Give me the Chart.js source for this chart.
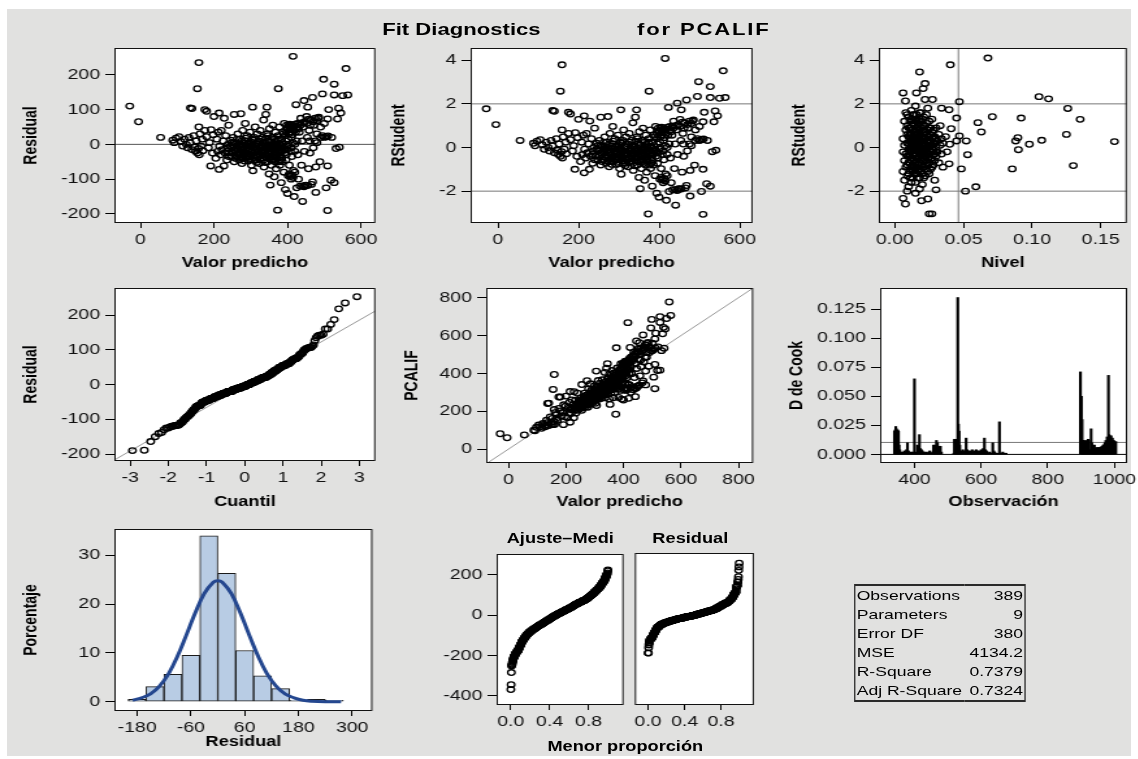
<!DOCTYPE html>
<html lang="es">
<head>
<meta charset="UTF-8">
<title>Fit Diagnostics for PCALIF</title>
<script src="https://cdn.jsdelivr.net/npm/chart.js"></script>
<style>
  body { margin: 0; width: 1138px; height: 759px; overflow: hidden; background: #fff;
         font-family: "Liberation Sans", Arial, sans-serif; color: #000; }
  #fondo { position: absolute; left: 7px; top: 9px; width: 1124px; height: 747px; background: #e1e1e0; }
  #lienzo { position: absolute; left: 0; top: 0; width: 876px; height: 759px;
            transform: scaleX(1.3); transform-origin: 0 0; }
  #lienzo canvas, .texto { position: absolute; }
  .texto { font-weight: bold; white-space: nowrap; line-height: 20px; }
  .titulo { font-size: 17px; top: 20px; }
  .sub { font-size: 14px; transform: translateX(-50%); }
  #tabla { position: absolute; left: 657px; top: 584px; width: 132px; border-collapse: collapse;
           border-style: solid; border-color: #2a2a2a; border-width: 2px 1.5px; font-size: 13.5px; }
  #tabla td { height: 19px; padding: 0 1px; line-height: 17px; white-space: nowrap; }
  #tabla td.v { text-align: right; padding-left: 3px; }
</style>
</head>
<body>
<div id="fondo"></div>
<div id="lienzo">
  <div class="texto titulo" style="left:294px">Fit Diagnostics</div>
  <div class="texto titulo" style="left:490px;letter-spacing:1.4px">for PCALIF</div>
  <div class="texto sub" style="left:431px;top:528px">Ajuste–Medi</div>
  <div class="texto sub" style="left:531px;top:528px">Residual</div>
  <div class="texto sub" style="left:481px;top:736px">Menor proporción</div>
  <table id="tabla"></table>
</div>

<script>
// la imagen original está estirada en horizontal
const S = 1.3;

// ---------- datos ----------
// [valor predicho, residual]
const predResid = [
  [-29,110],[-5,65],[55,20],[159,235],[155,160],[415,253],[559,218],[375,160],[498,187],[527,173],
  [495,145],[527,142],[564,142],[136,105],[140,103],[175,100],[214,90],[255,86],[273,88],[305,107],
  [344,107],[341,86],[159,50],[468,135],[445,126],[423,114],[455,107],[539,104],[536,73],[509,73],
  [541,-8],[532,-12],[509,-62],[477,-65],[191,-62],[214,-72],[227,-62],[306,-76],[373,-189],[509,-190],
  [441,-164],[418,-150],[400,-141],[477,-138],[505,-125],[450,-117],[468,-108],[518,-103],[527,-110],[353,-117],
  [364,-93],
  [88,12],[92,5],[97,18],
  [105,22],[110,8],[115,-5],[120,15],[125,0],[128,-10],[132,20],[135,5],[140,-15],[145,25],
  [148,-8],[150,-20],[152,10],[155,-25],[158,-12],[160,-30],[162,30],[165,-5],[168,15],[170,-18],
  [175,40],[180,22],[185,-10],[188,5],[192,42],[196,-25],[198,28],[180,95],
  [200,80],[205,-40],[208,15],[210,-20],[212,35],[215,-5],[218,-30],[220,40],[222,-15],[225,10],
  [228,75],[230,-25],[232,25],[235,-45],[238,0],[240,55],[242,-25],[245,12],[248,-35],[250,-8],
  [252,20],[255,-50],[258,-20],[260,5],[262,-35],[265,30],[265,-10],[268,-45],[270,15],[272,-25],
  [275,0],[276,-55],[278,40],[280,-15],[282,-30],[284,10],[285,60],[287,-40],[288,-5],[290,25],
  [292,-20],[294,-48],[295,5],[297,-12],[298,35],[300,-30],[302,-60],[303,15],[307,-8],[309,-38],
  [310,20],[312,50],[313,-22],[315,0],[317,-45],[318,30],[320,-15],
  [322,10],[323,-55],[325,-28],[326,40],[328,-5],[330,-40],[331,20],[333,-18],[335,70],[336,-65],
  [338,5],[340,-30],[342,-10],[345,30],[346,-50],[348,-20],[349,10],[350,-85],[351,45],[354,-35],
  [355,0],[356,-60],[357,20],[358,-25],[360,55],[361,-8],[362,-45],[365,15],[366,-30],[367,35],
  [368,-15],[369,-70],[370,5],[363,-2],[352,-12],[347,25],
  [372,-40],[374,25],[376,-20],[378,50],[379,-60],[380,0],[382,-30],[383,-110],[384,15],[386,-50],
  [387,35],[388,-10],[390,-80],[391,60],[392,-25],[394,-130],[395,10],[396,-45],[398,55],[401,-5],
  [402,-90],[403,30],[405,-60],[406,58],[408,-20],[410,-100],[411,20],[412,-35],[414,45],[416,-75],
  [420,0],[425,-125],[427,60],[428,-30],
  [432,35],[434,-120],[436,75],[438,-60],[440,10],[443,50],[446,-20],[448,-118],[452,80],[454,20],
  [457,-70],[459,40],[461,-25],[463,70],[465,-115],
  [472,55],[475,10],[480,30],[483,75],[488,-50],[490,20],[500,60],
  [512,100],[520,20],[545,90],[550,140],
  [395,40],[400,48],[404,55],[407,42],[412,52],[418,40],[421,58],[430,45],[435,55],[440,62],
  [447,65],[452,60],[458,72],[462,55],[470,65],[475,75],[480,68],[485,78],[490,50],
  [405,-85],[408,-92],[412,-88],[415,-95],[420,-80],[430,-100],[440,-120],[445,-122],[455,-118],
  [460,10],[470,-10],[480,5],[495,25],[500,20],[505,22],[510,24],
  [270,-30],[275,-15],[280,-40],[285,-25],[290,-10],[295,-35],[300,-5],[305,-20],[310,-45],[315,-15],
  [320,-35],[325,-10],[330,-25],[335,-45],[340,-5],[345,-15],[350,-40],[355,-20],[360,-35],[365,-5],
  [370,-25],[375,-10],[380,-45],[385,-20],[390,-5],[255,-15],[262,-5],[248,5],[236,-10],[290,-28],
  [330,-2],[372,-12],
  [398,-15],[403,0],[410,-10],[415,5],[420,-20],[425,10],
  [235,-20],[240,-35],[245,-5],[250,-25],[255,5],[258,-40],[260,-12],[263,15],[266,-28],[268,0],
  [271,-8],[273,-38],[276,10],[279,-22],[281,-3],[283,-48],[286,18],[289,-33],[291,0],[293,-15],
  [296,-42],[299,8],[301,-22],[304,-2],[306,-33],[308,12],[311,-10],[314,-30],[316,-52],[319,5],
  [321,-20],[324,-42],[327,15],[329,-12],[332,-32],[334,2],[337,-20],[339,-52],[341,18],[343,-38],
  [344,-12],[347,-2],[349,-28],[353,8],[356,-42],[358,-8],[360,20],[363,-22],[366,-50],[368,2],
  [371,-35],[373,15],[376,-50],[378,-2],[381,-20],[384,-40],[386,5],[389,30],[392,-15],[394,25],
  [397,-30],[399,45],[402,15],[405,35],[409,50],[413,28],[417,52],[422,35],[426,48],[433,60]
];

// [nivel (leverage), RStudent]
const nivelRStudent = [
  [0.0678,4.1],[0.0404,3.79],[0.018,3.46],[0.022,2.93],[0.0206,2.7],[0.006,2.5],[0.0157,2.5],[0.0077,2.13],
  [0.0274,2.2],[0.047,2.1],[0.105,2.33],[0.112,2.23],[0.126,1.79],[0.135,1.29],[0.092,1.35],[0.071,1.41],
  [0.0605,1.14],[0.063,0.71],[0.125,0.6],[0.0896,0.45],[0.088,0.3],[0.098,0.15],[0.107,0.33],[0.16,0.27],
  [0.090,-0.1],[0.13,-0.83],[0.0855,-0.98],[0.0484,-0.98],[0.053,-0.33],[0.052,0.3],[0.059,-1.8],[0.0514,-2.0],
  [0.0395,-0.75],[0.030,-1.94],[0.027,-3.04],[0.025,-3.04],[0.0077,-2.59],[0.006,-2.33],[0.0194,-2.44],[0.024,-2.36],
  [0.009,-2.0],[0.040,0.15],[0.041,0.86],[0.0395,1.73],[0.034,1.8],[0.045,1.35],[0.047,0.53],[0.045,0.3],
  [0.006,-0.2],[0.006,0.4],[0.006,-1.1],[0.007,0.1],[0.007,-0.6],[0.007,1.2],[0.007,-1.5],
  [0.008,-0.3],[0.008,0.8],[0.008,-0.9],[0.008,1.6],[0.009,0.2],[0.009,-0.4],[0.009,-1.3],[0.009,1.0],
  [0.010,-0.1],[0.010,0.5],[0.010,-0.7],[0.010,1.4],[0.010,-1.8],[0.011,0.3],[0.011,-0.2],[0.011,0.9],[0.011,-1.0],
  [0.012,-0.5],[0.012,0.1],[0.012,1.7],[0.012,-1.6],[0.012,0.6],[0.013,0.0],[0.013,-0.3],[0.013,1.1],[0.013,-0.8],
  [0.014,0.4],[0.014,-0.6],[0.014,-1.2],[0.014,1.5],[0.014,0.2],[0.015,-0.1],[0.015,0.7],[0.015,-0.4],[0.015,-2.1],[0.015,1.9],
  [0.016,0.3],[0.016,-0.9],[0.016,0.1],[0.016,1.2],[0.017,-0.2],[0.017,0.5],[0.017,-1.4],[0.017,0.9],[0.017,-0.5],
  [0.018,0.0],[0.018,1.3],[0.018,-0.7],[0.018,0.4],[0.018,-1.9],[0.019,-0.3],[0.019,0.6],[0.019,1.6],[0.019,-1.1],
  [0.020,0.2],[0.020,-0.5],[0.020,0.8],[0.020,-1.7],[0.020,1.0],[0.021,-0.1],[0.021,0.4],[0.021,-0.9],[0.021,1.4],
  [0.022,0.1],[0.022,-0.4],[0.022,0.7],[0.022,-1.3],[0.022,2.2],[0.023,-0.2],[0.023,0.3],[0.023,1.1],[0.023,-0.6],
  [0.024,0.0],[0.024,-0.8],[0.024,0.5],[0.024,1.8],[0.025,-0.3],[0.025,0.2],[0.025,-1.2],[0.025,0.9],
  [0.026,0.1],[0.026,-0.5],[0.026,0.6],[0.027,-0.1],[0.027,0.4],[0.027,-0.9],[0.027,1.3],[0.028,0.2],[0.028,-0.3],[0.028,0.8],
  [0.029,-0.6],[0.029,0.5],[0.029,-1.5],[0.030,0.0],[0.030,0.9],[0.030,-0.4],[0.031,0.3],[0.031,-0.2],
  [0.032,-0.7],[0.032,0.6],[0.033,0.1],[0.033,1.0],[0.034,-0.3],[0.034,0.4],[0.035,0.2],[0.035,-0.9],[0.037,0.5],[0.038,-0.2],
  [0.011,-0.4],[0.013,0.3],[0.015,0.1],[0.016,-0.3],[0.017,0.2],[0.019,-0.1],[0.020,-0.2],[0.021,0.1],[0.022,-0.1],
  [0.023,0.0],[0.018,-0.3],[0.016,0.6],[0.014,-0.1],[0.020,0.5],[0.024,-0.3],[0.012,-0.2],[0.019,0.3],[0.021,-0.4],
  [0.009,0.6],[0.009,-0.8],[0.009,1.5],[0.010,0.2],[0.010,-0.4],[0.010,0.9],[0.010,-1.2],
  [0.011,0.6],[0.011,-0.7],[0.011,1.2],[0.011,-1.4],[0.011,0.0],[0.012,0.3],[0.012,-0.9],[0.012,0.9],[0.012,-0.1],[0.012,1.3],
  [0.013,0.5],[0.013,-0.5],[0.013,0.8],[0.013,-1.1],[0.013,1.5],[0.013,-1.4],[0.014,0.0],[0.014,0.7],[0.014,-0.9],[0.014,1.1],[0.014,-0.3],
  [0.015,0.3],[0.015,-0.7],[0.015,1.2],[0.015,-1.0],[0.015,0.5],[0.015,-1.6],[0.016,-0.5],[0.016,0.8],[0.016,-1.2],[0.016,1.5],[0.016,0.4],[0.016,-0.1],
  [0.017,0.0],[0.017,0.7],[0.017,-0.8],[0.017,1.1],[0.017,-1.1],[0.017,0.3],[0.018,0.2],[0.018,-0.4],[0.018,0.8],[0.018,-1.0],[0.018,1.6],[0.018,-1.4],
  [0.019,0.0],[0.019,-0.6],[0.019,0.9],[0.019,-0.8],[0.019,1.2],[0.020,-0.1],[0.020,0.4],[0.020,-0.9],[0.020,1.3],[0.020,-1.2],
  [0.021,0.2],[0.021,-0.6],[0.021,0.7],[0.021,-1.4],[0.021,1.0],[0.022,-0.2],[0.022,0.4],[0.022,-0.8],[0.022,1.0],
  [0.023,0.1],[0.023,-0.4],[0.023,0.6],[0.023,-1.0],[0.023,1.5],[0.024,0.3],[0.024,-0.5],[0.024,0.8],[0.024,-1.1],
  [0.025,0.0],[0.025,0.5],[0.025,-0.7],[0.025,1.2],[0.026,-0.2],[0.026,0.3],[0.026,-1.0],[0.026,0.9],
  [0.027,0.1],[0.027,-0.5],[0.027,0.7],[0.028,-0.1],[0.028,0.5],[0.028,-0.8],[0.029,0.2],[0.029,-0.3],[0.030,-0.2],[0.030,0.4]
];

// [observación, D de Cook]
const cookD = [
  [340,0.020],[342,0.021],[344,0.024],[346,0.022],[348,0.019],[350,0.021],[352,0.020],[354,0.008],[356,0.004],[358,0.002],
  [361,0.001],[364,0.002],[367,0.001],[370,0.003],[373,0.002],[376,0.004],[379,0.010],[382,0.003],[385,0.001],[388,0.002],
  [391,0.001],[394,0.002],[397,0.001],[400,0.065],[403,0.002],[406,0.001],[409,0.008],[412,0.007],[415,0.017],[418,0.005],
  [421,0.004],[424,0.003],[427,0.002],[430,0.001],[434,0.002],[438,0.001],[442,0.002],[446,0.003],[450,0.001],[454,0.002],
  [457,0.008],[460,0.003],[463,0.008],[466,0.012],[469,0.010],[472,0.007],[475,0.006],[478,0.007],[481,0.002],
  [518,0.001],[520,0.013],[522,0.012],[524,0.011],[526,0.013],[528,0.012],[530,0.135],[532,0.026],[534,0.020],[536,0.008],
  [539,0.003],[542,0.002],[545,0.004],[548,0.002],[551,0.003],[555,0.014],[558,0.004],[561,0.003],[564,0.002],[567,0.003],
  [570,0.002],[573,0.004],[576,0.002],[579,0.003],[582,0.002],[585,0.004],[588,0.003],[591,0.002],[594,0.003],[597,0.002],
  [600,0.004],[603,0.003],[606,0.005],[610,0.014],[613,0.004],[616,0.003],[619,0.002],[622,0.001],[626,0.002],[630,0.001],
  [635,0.010],[638,0.003],[641,0.002],[645,0.001],[650,0.001],[655,0.028],[660,0.001],[665,0.002],[670,0.001],[675,0.001],
  [898,0.071],[901,0.050],[903,0.030],[905,0.012],[907,0.011],[909,0.012],[911,0.010],[913,0.011],[915,0.009],[917,0.012],
  [919,0.003],[921,0.013],[923,0.012],[925,0.002],[927,0.004],[930,0.022],[932,0.010],[934,0.008],[936,0.006],[938,0.004],
  [940,0.008],[942,0.005],[944,0.003],[946,0.004],[948,0.006],[950,0.005],[952,0.004],[954,0.006],[956,0.005],[958,0.006],
  [960,0.006],[962,0.007],[964,0.006],[966,0.008],[968,0.007],[970,0.009],[972,0.010],[974,0.012],[976,0.011],[978,0.015],
  [982,0.068],[984,0.017],[986,0.016],[988,0.015],[990,0.016],[992,0.012],[994,0.014],[996,0.011],[998,0.012],[1000,0.011],
  [1002,0.010],[1004,0.011]
];
const cookCorte = 0.0103;

// histograma de residuales (porcentaje por clase de ancho 40)
const histCentros = [-180, -140, -100, -60, -20, 20, 60, 100, 140, 180, 220, 260];
const histPorcentaje = [0.5, 3.1, 5.6, 9.5, 34.0, 26.3, 10.5, 5.3, 2.7, 0.3, 0.5, 0.3];
// curva normal
const curvaX = [-190, -170, -150, -130, -110, -90, -70, -50, -30, -10, 0, 10, 30, 50, 70, 90, 110, 130, 150, 170, 190, 210, 240, 275];
const curvaY = [0.3, 0.8, 1.6, 3.2, 5.7, 9.3, 13.7, 18.3, 22.2, 24.5, 24.8, 24.5, 22.2, 18.3, 13.7, 9.3, 5.7, 3.2, 1.6, 0.8, 0.3, 0.1, 0.0, 0.0];

// recta de referencia del gráfico Q-Q
const lineaQQ = [[-3.41, -217], [3.42, 212]];

// ticks
const ticksPred = [0, 200, 400, 600];
const ticksResid = [-200, -100, 0, 100, 200];
const ticksRStud = [-2, 0, 2, 4];
const ticksNivel = [0, 0.05, 0.10, 0.15];
const ticksCuantil = [-3, -2, -1, 0, 1, 2, 3];
const ticksPcalif = [0, 200, 400, 600, 800];
const ticksObs = [400, 600, 800, 1000];
const ticksCook = [0, 0.025, 0.05, 0.075, 0.1, 0.125];
const ticksHistX = [-180, -60, 60, 180, 300];
const ticksPct = [0, 10, 20, 30];
const ticksProp = [0, 0.4, 0.8];
const ticksAjuste = [-400, -200, 0, 200];

const tablaEtiquetas = ['Observations', 'Parameters', 'Error DF', 'MSE', 'R-Square', 'Adj R-Square'];
const tablaValores = ['389', '9', '380', '4134.2', '0.7379', '0.7324'];

// ---------- series derivadas de las mismas observaciones ----------
const n = predResid.length;
const mediaPred = predResid.reduce((s, d) => s + d[0], 0) / n;
const rstudent = predResid.map(([p, r]) => ({ x: p, y: r / 62 }));
const pcalif = predResid.map(([p, r]) => ({ x: p, y: p + r }));
const residOrden = predResid.map(d => d[1]).sort((a, b) => a - b);
const ajusteOrden = predResid.map(d => d[0] - mediaPred).sort((a, b) => a - b);

function probit(p) {
  const a = [-39.69683028665376, 220.9460984245205, -275.9285104469687, 138.3577518672690, -30.66479806614716, 2.506628277459239];
  const b = [-54.47609879822406, 161.5858368580409, -155.6989798598866, 66.80131188771972, -13.28068155288572];
  const c = [-0.007784894002430293, -0.3223964580411365, -2.400758277161838, -2.549732539343734, 4.374664141464968, 2.938163982698783];
  const d = [0.007784695709041462, 0.3224671290700398, 2.445134137142996, 3.754408661907416];
  const cola = q => (((((c[0]*q+c[1])*q+c[2])*q+c[3])*q+c[4])*q+c[5]) / ((((d[0]*q+d[1])*q+d[2])*q+d[3])*q+1);
  if (p < 0.02425) return cola(Math.sqrt(-2 * Math.log(p)));
  if (p > 1 - 0.02425) return -cola(Math.sqrt(-2 * Math.log(1 - p)));
  const q = p - 0.5, r = q * q;
  return (((((a[0]*r+a[1])*r+a[2])*r+a[3])*r+a[4])*r+a[5])*q / (((((b[0]*r+b[1])*r+b[2])*r+b[3])*r+b[4])*r+1);
}
const qq = residOrden.map((r, i) => ({ x: probit((i + 1 - 0.375) / (n + 0.25)), y: r }));

// ---------- helpers ----------
Chart.defaults.font.family = '"Liberation Sans", Arial, sans-serif';
Chart.defaults.color = '#000';

const lienzo = document.getElementById('lienzo');
const PT = 12;

const marco = {
  id: 'marco',
  beforeDraw(c) {
    const a = c.chartArea, ctx = c.ctx;
    ctx.save();
    ctx.fillStyle = '#fff';
    ctx.fillRect(a.left, a.top, a.right - a.left, a.bottom - a.top);
    ctx.restore();
  },
  afterDraw(c) {
    const a = c.chartArea, ctx = c.ctx;
    ctx.save();
    ctx.strokeStyle = '#111';
    ctx.lineWidth = 1;
    ctx.strokeRect(a.left + 0.5, a.top + 0.5, a.right - a.left - 1, a.bottom - a.top - 1);
    ctx.restore();
  }
};

function escala(min, max, valores, fmt, titulo, extra) {
  return Object.assign({
    type: 'linear', min: min, max: max, offset: false,
    afterBuildTicks: s => { s.ticks = valores.map(v => ({ value: v })); },
    grid: { display: true, offset: false, drawOnChartArea: false, drawTicks: true, tickLength: 7, color: '#000', lineWidth: 1 },
    border: { display: false },
    ticks: { color: '#111', font: { size: 15 }, padding: 4, autoSkip: false, maxRotation: 0, callback: v => fmt(v) },
    title: { display: !!titulo, text: titulo, color: '#000', font: { size: 14, weight: 'bold' }, padding: 0 }
  }, extra || {});
}

const entero = v => String(v);
const dec = k => v => v.toFixed(k);

function puntos(data) {
  return { data: data, pointRadius: 2.8, pointBorderWidth: 1.3, pointBorderColor: '#000',
           pointBackgroundColor: 'rgba(0,0,0,0)', showLine: false };
}
function linea(data, color) {
  return { type: 'line', data: data, borderColor: color, borderWidth: 1, pointRadius: 0, showLine: true, fill: false };
}

function panel(caja, anchoY, altoX, tipo, datasets, ex, ey) {
  const cv = document.createElement('canvas');
  const w = (caja[2] - caja[0]) / S, h = caja[3] - caja[1];
  const ancho = Math.ceil(anchoY + w + 24), alto = Math.round(PT + h + altoX);
  cv.width = ancho; cv.height = alto;
  cv.style.width = ancho + 'px'; cv.style.height = alto + 'px';
  cv.style.left = (caja[0] / S - anchoY) + 'px';
  cv.style.top = (caja[1] - PT) + 'px';
  lienzo.appendChild(cv);
  ex.grid = Object.assign({}, ex.grid, { tickLength: 5 });
  ex.ticks = Object.assign({}, ex.ticks, { padding: 3 });
  ex.afterFit = s => { s.height = altoX; };
  if (ey.display !== false) ey.afterFit = s => { s.width = anchoY; };
  new Chart(cv, {
    type: tipo,
    data: { datasets: datasets },
    options: {
      responsive: false, animation: false, devicePixelRatio: 1,
      layout: { padding: { left: 0, top: PT, right: ancho - anchoY - w, bottom: 0 } },
      plugins: { legend: { display: false }, tooltip: { enabled: false } },
      scales: { x: ex, y: ey }
    },
    plugins: [marco]
  });
}

// ---------- fila 1 ----------
panel([114, 47, 375, 223], 72, 49, 'scatter', [
    puntos(predResid.map(([p, r]) => ({ x: p, y: r }))),
    linea([{ x: -70.7, y: 0 }, { x: 639, y: 0 }], '#555')
  ],
  escala(-70.7, 639, ticksPred, entero, 'Valor predicho'),
  escala(-226, 277, ticksResid, entero, 'Residual'));

panel([471, 47, 753, 223], 63, 49, 'scatter', [
    puntos(rstudent),
    linea([{ x: -67.8, y: 2 }, { x: 632, y: 2 }], '#777'),
    linea([{ x: -67.8, y: -2 }, { x: 632, y: -2 }], '#777')
  ],
  escala(-67.8, 632, ticksPred, entero, 'Valor predicho'),
  escala(-3.46, 4.56, ticksRStud, entero, 'RStudent'));

panel([879, 47, 1127, 223], 69, 49, 'scatter', [
    puntos(nivelRStudent.map(([l, r]) => ({ x: l, y: r }))),
    linea([{ x: -0.0117, y: 2 }, { x: 0.169, y: 2 }], '#777'),
    linea([{ x: -0.0117, y: -2 }, { x: 0.169, y: -2 }], '#777'),
    linea([{ x: 0.0463, y: -3.46 }, { x: 0.0463, y: 4.56 }], '#777')
  ],
  escala(-0.0117, 0.169, ticksNivel, dec(2), 'Nivel'),
  escala(-3.46, 4.56, ticksRStud, entero, 'RStudent'));

// ---------- fila 2 ----------
panel([115, 287, 376, 461], 72, 50, 'scatter', [
    puntos(qq),
    linea(lineaQQ.map(([x, y]) => ({ x: x, y: y })), '#999')
  ],
  escala(-3.41, 3.42, ticksCuantil, entero, 'Cuantil'),
  escala(-220, 278, ticksResid, entero, 'Residual'));

panel([486, 287, 753, 463], 65, 48, 'scatter', [
    puntos(pcalif),
    linea([{ x: -77.6, y: -77.6 }, { x: 851, y: 851 }], '#999')
  ],
  escala(-77.6, 851, ticksPcalif, entero, 'Valor predicho'),
  escala(-73.5, 851, ticksPcalif, entero, 'PCALIF'));

panel([880, 287, 1127, 463], 72, 48, 'bar', [
    { type: 'bar', data: cookD.map(([o, d]) => ({ x: o, y: d })), backgroundColor: '#000', barThickness: 1.5 },
    linea([{ x: 297, y: cookCorte }, { x: 1038, y: cookCorte }], '#777'),
    linea([{ x: 297, y: 0 }, { x: 1038, y: 0 }], '#000')
  ],
  escala(297, 1038, ticksObs, entero, 'Observación'),
  escala(-0.0074, 0.1432, ticksCook, dec(3), 'D de Cook'));

// ---------- fila 3 ----------
panel([115, 528, 373, 711], 72, 40, 'bar', [
    { type: 'line', data: curvaX.map((x, i) => ({ x: x, y: curvaY[i] })), borderColor: '#24478f',
      borderWidth: 3, pointRadius: 0, tension: 0.4, fill: false },
    { type: 'bar', data: histCentros.map((c, i) => ({ x: c, y: histPorcentaje[i] })),
      backgroundColor: '#b8cce4', borderColor: '#1a1a1a', borderWidth: 1, borderSkipped: false,
      barPercentage: 1, categoryPercentage: 1 }
  ],
  escala(-230.7, 345, ticksHistX, entero, 'Residual'),
  escala(-1.9, 35.4, ticksPct, entero, 'Porcentaje'));

const propX = i => (i + 0.5) / n;
panel([497, 553, 624, 705], 50, 30, 'scatter', [
    puntos(ajusteOrden.map((v, i) => ({ x: propX(i), y: v })))
  ],
  escala(-0.145, 1.16, ticksProp, dec(1), ''),
  escala(-446, 303.5, ticksAjuste, entero, ''));

panel([628, 553, 754, 705], 0, 30, 'scatter', [
    puntos(residOrden.map((v, i) => ({ x: propX(i), y: v })))
  ],
  escala(-0.145, 1.16, ticksProp, dec(1), ''),
  escala(-446, 303.5, ticksAjuste, entero, '', { display: false }));

// ---------- tabla de estadísticos ----------
const tabla = document.getElementById('tabla');
tablaEtiquetas.forEach((et, i) => {
  const tr = document.createElement('tr');
  tr.innerHTML = '<td>' + et + '</td><td class="v">' + tablaValores[i] + '</td>';
  tabla.appendChild(tr);
});
</script>
</body>
</html>
